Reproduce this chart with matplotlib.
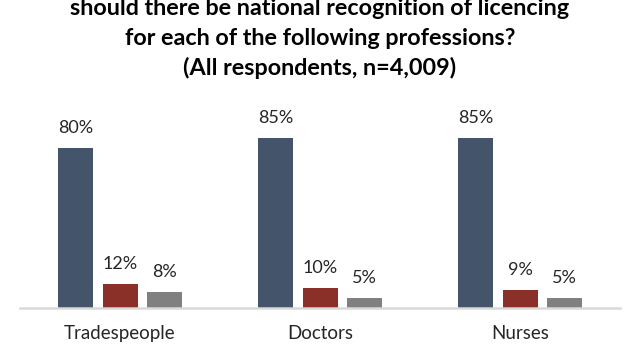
import matplotlib
matplotlib.use("Agg")
import matplotlib.pyplot as plt
import numpy as np

categories = ["Tradespeople", "Doctors", "Nurses"]
series_a = [80, 85, 85]
series_b = [12, 10, 9]
series_c = [8, 5, 5]
title_lines = ["should there be national recognition of licencing",
               "for each of the following professions?",
               "(All respondents, n=4,009)"]

colors = ["#44546A", "#8B3028", "#808080"]
plt.rcParams['font.family'] = ['Lato', 'DejaVu Sans']

fig = plt.figure(figsize=(6.4, 3.6), dpi=100)
ax = fig.add_axes([0.03125, 0.1444, 0.9375, 0.5556])

x = np.arange(len(categories))
w = 0.175
off = 0.222
for i, (vals, c) in enumerate(zip([series_a, series_b, series_c], colors)):
    pos = x + (i - 1) * off
    ax.bar(pos, vals, width=w, color=c)
    for p, v in zip(pos, vals):
        ax.annotate(f"{v}%", (p, v), xytext=(0, 11), textcoords="offset points",
                    ha="center", va="baseline", fontsize=13, color="#262626")

ax.set_xlim(-0.5, 2.5)
ax.set_ylim(0, 100)
for s in ["top", "left", "right"]:
    ax.spines[s].set_visible(False)
ax.spines["bottom"].set_color("#D9D9D9")
ax.spines["bottom"].set_linewidth(1.8)
ax.set_yticks([])
ax.set_xticks(x)
ax.set_xticklabels(categories, fontsize=13.5, color="#262626")
ax.tick_params(axis="x", length=0, pad=12)

baselines = [15, 45, 75]
for t, yy in zip(title_lines, baselines):
    fig.text(0.5, 1 - yy / 360, t, ha="center", va="baseline", fontsize=16.8,
             fontweight="bold", color="#000000")

fig.savefig("out.png", dpi=100)
